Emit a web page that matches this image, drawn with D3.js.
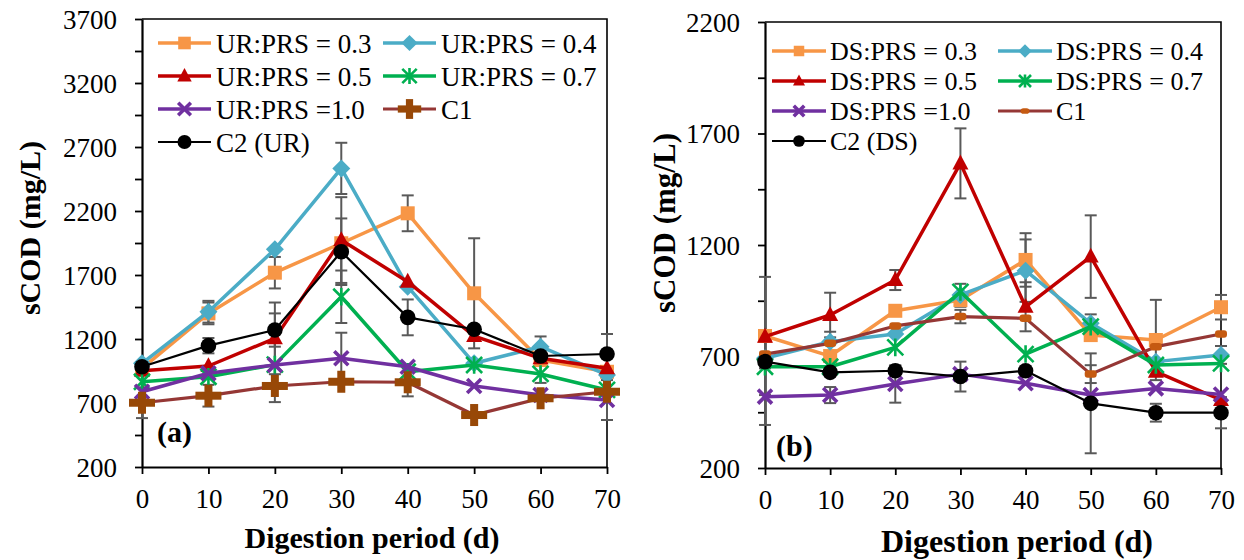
<!DOCTYPE html>
<html>
<head>
<meta charset="utf-8">
<script src="https://cdn.jsdelivr.net/npm/d3@7"></script>
<style>
  html, body { margin: 0; padding: 0; background: #fff; }
  svg { display: block; font-family: "Liberation Serif", "Times New Roman", serif; }
</style>
</head>
<body>
<svg id="chart" width="1244" height="560"></svg>
<script>
// Sampling days
const days = [0, 10, 20, 30, 40, 50, 60, 70];
const xTicks = [0, 10, 20, 30, 40, 50, 60, 70];

// Panel (a): UR co-digestion, sCOD (mg/L)
const ur03 = [970, 1400, 1718, 1948, 2182, 1557, 1036, 944];
const ur04 = [1010, 1413, 1901, 2533, 1609, 1010, 1140, 919];
const ur05 = [952, 989, 1205, 1973, 1648, 1223, 1049, 971];
const ur07 = [866, 905, 1000, 1530, 944, 997, 927, 802];
const ur10 = [788, 932, 997, 1049, 983, 833, 763, 723];
const urC1 = [702, 757, 833, 866, 862, 606, 737, 788];
const urC2 = [983, 1148, 1270, 1882, 1369, 1276, 1067, 1083];
// Panel (a): standard deviations
const ur03Err = [0, 85, 123, 0, 140, 430, 0, 0];
const ur04Err = [0, 85, 0, 200, 0, 0, 80, 0];
const ur05Err = [0, 0, 280, 335, 0, 0, 0, 0];
const ur07Err = [0, 0, 0, 205, 0, 0, 70, 0];
const ur10Err = [0, 0, 290, 200, 0, 0, 0, 156];
const urC1Err = [120, 85, 0, 0, 110, 0, 0, 0];
const urC2Err = [0, 60, 130, 260, 140, 0, 0, 156];
const urTicks = [200, 700, 1200, 1700, 2200, 2700, 3200, 3700];

// Panel (b): DS co-digestion, sCOD (mg/L)
const ds03 = [792, 702, 905, 953, 1133, 796, 774, 921];
const ds04 = [692, 766, 801, 976, 1085, 849, 677, 707];
const ds05 = [789, 886, 1043, 1566, 923, 1148, 632, 505];
const ds07 = [654, 654, 741, 990, 711, 834, 662, 669];
const ds10 = [520, 527, 577, 621, 580, 527, 557, 530];
const dsC1 = [711, 759, 837, 879, 871, 621, 744, 801];
const dsC2 = [677, 629, 636, 610, 636, 490, 448, 448];
// Panel (b): standard deviations
const ds03Err = [265, 0, 0, 30, 120, 0, 180, 55];
const ds04Err = [0, 45, 0, 0, 140, 0, 0, 40];
const ds05Err = [0, 100, 45, 157, 110, 185, 0, 0];
const ds07Err = [0, 0, 0, 36, 0, 55, 0, 0];
const ds10Err = [127, 36, 84, 0, 0, 0, 0, 0];
const dsC1Err = [0, 0, 0, 30, 0, 40, 0, 0];
const dsC2Err = [0, 0, 0, 67, 0, 224, 40, 70];
const dsTicks = [200, 700, 1200, 1700, 2200];

const ratioLabels = ["0.3", "0.4", "0.5", "0.7"];

const C = {
  orange: "#F79646", blue: "#4BACC6", red: "#C00000", green: "#00B050",
  purple: "#7030A0", brownLine: "#953735", brownMark: "#984807",
  c1Mark: "#C55A11", black: "#000000", err: "#595959"
};

const svg = d3.select("#chart");

// ---- marker shapes ----
function drawMarker(g, type, x, y, color, k) {
  switch (type) {
    case "square": {
      const s = 14 * k;
      g.append("rect").attr("x", x - s / 2).attr("y", y - s / 2).attr("width", s).attr("height", s).attr("fill", color);
      break;
    }
    case "diamond": {
      const h = 9 * k;
      g.append("path").attr("d", `M${x},${y - h}L${x + h},${y}L${x},${y + h}L${x - h},${y}Z`).attr("fill", color);
      break;
    }
    case "triangle": {
      const h = 8 * k;
      g.append("path").attr("d", `M${x},${y - h * 1.1}L${x + h},${y + h * 0.75}L${x - h},${y + h * 0.75}Z`).attr("fill", color);
      break;
    }
    case "circle":
      g.append("circle").attr("cx", x).attr("cy", y).attr("r", 7.8 * k).attr("fill", color);
      break;
    case "star": {
      const h = 8 * k;
      const d = `M${x - h},${y - h}L${x + h},${y + h}M${x - h},${y + h}L${x + h},${y - h}M${x},${y - h * 1.1}L${x},${y + h * 1.1}`;
      g.append("path").attr("d", d).attr("stroke", color).attr("stroke-width", 2.6).attr("fill", "none");
      break;
    }
    case "cross": {
      const h = 7 * k;
      const d = `M${x - h},${y - h}L${x + h},${y + h}M${x - h},${y + h}L${x + h},${y - h}`;
      g.append("path").attr("d", d).attr("stroke", color).attr("stroke-width", 3.6).attr("fill", "none");
      break;
    }
    case "plus": {
      const w = 26 * k, hgt = 22 * k, t = 8 * k;
      g.append("rect").attr("x", x - w / 2).attr("y", y - t / 2).attr("width", w).attr("height", t).attr("fill", color);
      g.append("rect").attr("x", x - t / 2).attr("y", y - hgt / 2).attr("width", t).attr("height", hgt).attr("fill", color);
      break;
    }
    case "dash": {
      const w = 12 * k, hgt = 7.5 * k;
      g.append("rect").attr("x", x - w / 2).attr("y", y - hgt / 2).attr("width", w).attr("height", hgt)
        .attr("rx", 3).attr("fill", color);
      break;
    }
  }
}

// ---- one panel ----
function panel(cfg) {
  const x = d3.scaleLinear().domain([0, 70]).range([cfg.left, cfg.right]);
  const y = d3.scaleLinear().domain([cfg.yMin, cfg.yMax]).range([cfg.bottom, cfg.top]);
  const g = svg.append("g");

  // frame (top and right edges)
  g.append("path")
    .attr("d", `M${x(0)},${y(cfg.yMax)}H${x(70)}V${y(cfg.yMin)}`)
    .attr("fill", "none").attr("stroke", "#000").attr("stroke-width", 1.6);

  // y axis: ticks every 250, labels every 500
  const yTickVals = d3.range(cfg.yMin, cfg.yMax + 1, 250);
  const yAxis = g.append("g").attr("transform", `translate(${x(0)},0)`)
    .call(d3.axisLeft(y).tickValues(yTickVals)
      .tickFormat(d => cfg.yTicks.includes(d) ? String(d) : "")
      .tickSize(7).tickSizeOuter(0).tickPadding(18));
  // x axis
  const xAxis = g.append("g").attr("transform", `translate(0,${y(cfg.yMin)})`)
    .call(d3.axisBottom(x).tickValues(xTicks).tickSize(7).tickSizeOuter(0).tickPadding(15));
  [yAxis, xAxis].forEach(a => {
    a.attr("font-family", "Liberation Serif");
    a.select(".domain").attr("stroke", "#000").attr("stroke-width", 2.2);
    a.selectAll(".tick line").attr("stroke", "#000").attr("stroke-width", 1.8);
    a.selectAll("text").attr("font-family", "Liberation Serif").attr("font-size", 27).attr("fill", "#000");
  });
  yAxis.selectAll("text").attr("dy", "0.34em");
  xAxis.selectAll("text").attr("dy", "0.72em");

  // error bars
  const eg = g.append("g");
  cfg.series.forEach(s => {
    s.values.forEach((v, i) => {
      const e = s.err[i];
      if (!e) return;
      const cx = x(days[i]), y1 = y(v + e), y2 = y(v - e);
      eg.append("line").attr("x1", cx).attr("x2", cx).attr("y1", y1).attr("y2", y2)
        .attr("stroke", C.err).attr("stroke-width", 2);
      [y1, y2].forEach(yy => eg.append("line").attr("x1", cx - 6).attr("x2", cx + 6)
        .attr("y1", yy).attr("y2", yy).attr("stroke", C.err).attr("stroke-width", 2));
    });
  });

  // series lines + markers
  const line = d3.line().x((d, i) => x(days[i])).y(d => y(d));
  cfg.series.forEach(s => {
    const sg = g.append("g");
    sg.append("path").datum(s.values).attr("d", line)
      .attr("fill", "none").attr("stroke", s.line).attr("stroke-width", s.width)
      .attr("stroke-linejoin", "round");
    s.values.forEach((v, i) => drawMarker(sg, s.marker, x(days[i]), y(v), s.mark, 1));
  });

  // legend
  const lg = g.append("g");
  cfg.series.forEach((s, i) => {
    const col = i % 2, row = Math.floor(i / 2);
    const L = cfg.legend;
    const x0 = L.cols[col], base = L.rows[row];
    const ly = base - L.lineOff;
    lg.append("line").attr("x1", x0).attr("x2", x0 + L.lineLen).attr("y1", ly).attr("y2", ly)
      .attr("stroke", s.line).attr("stroke-width", s.width);
    drawMarker(lg, s.marker, x0 + L.lineLen / 2, ly, s.mark, L.mk);
    lg.append("text").attr("x", x0 + L.lineLen + L.gap).attr("y", base)
      .attr("font-size", L.size).attr("fill", "#000").text(s.name);
  });

  // panel tag
  g.append("text").attr("x", cfg.tag.x).attr("y", cfg.tag.y)
    .attr("font-size", 30).attr("font-weight", "bold").text(cfg.tag.text);

  // axis titles
  g.append("text").attr("x", cfg.xTitle.x).attr("y", cfg.xTitle.y).attr("text-anchor", "middle")
    .attr("font-size", cfg.xTitle.size).attr("font-weight", "bold").text("Digestion period (d)");
  g.append("text").attr("transform", `translate(${cfg.yTitle.x},${cfg.yTitle.y}) rotate(-90)`)
    .attr("text-anchor", "middle").attr("font-size", cfg.yTitle.size).attr("font-weight", "bold")
    .text("sCOD (mg/L)");
}

panel({
  left: 142, right: 607, top: 19, bottom: 467, yMin: 200, yMax: 3700, yTicks: urTicks,
  series: [
    { name: "UR:PRS = " + ratioLabels[0], values: ur03, err: ur03Err, line: C.orange, mark: C.orange, marker: "square", width: 3.5 },
    { name: "UR:PRS = " + ratioLabels[1], values: ur04, err: ur04Err, line: C.blue, mark: C.blue, marker: "diamond", width: 3.5 },
    { name: "UR:PRS = " + ratioLabels[2], values: ur05, err: ur05Err, line: C.red, mark: C.red, marker: "triangle", width: 3.5 },
    { name: "UR:PRS = " + ratioLabels[3], values: ur07, err: ur07Err, line: C.green, mark: C.green, marker: "star", width: 3.5 },
    { name: "UR:PRS =1.0", values: ur10, err: ur10Err, line: C.purple, mark: C.purple, marker: "cross", width: 3.5 },
    { name: "C1", values: urC1, err: urC1Err, line: C.brownLine, mark: C.brownMark, marker: "plus", width: 3.2 },
    { name: "C2 (UR)", values: urC2, err: urC2Err, line: C.black, mark: C.black, marker: "circle", width: 2.2 }
  ],
  legend: { cols: [158, 383], rows: [53, 86, 119, 152], lineLen: 53, gap: 5, lineOff: 10, size: 27, mk: 0.9 },
  tag: { x: 157, y: 442, text: "(a)" },
  xTitle: { x: 372, y: 548, size: 30 },
  yTitle: { x: 40, y: 228, size: 30 }
});

panel({
  left: 765, right: 1221, top: 22, bottom: 468, yMin: 200, yMax: 2200, yTicks: dsTicks,
  series: [
    { name: "DS:PRS = " + ratioLabels[0], values: ds03, err: ds03Err, line: C.orange, mark: C.orange, marker: "square", width: 3.5 },
    { name: "DS:PRS = " + ratioLabels[1], values: ds04, err: ds04Err, line: C.blue, mark: C.blue, marker: "diamond", width: 3.5 },
    { name: "DS:PRS = " + ratioLabels[2], values: ds05, err: ds05Err, line: C.red, mark: C.red, marker: "triangle", width: 3.5 },
    { name: "DS:PRS = " + ratioLabels[3], values: ds07, err: ds07Err, line: C.green, mark: C.green, marker: "star", width: 3.5 },
    { name: "DS:PRS =1.0", values: ds10, err: ds10Err, line: C.purple, mark: C.purple, marker: "cross", width: 3.5 },
    { name: "C1", values: dsC1, err: dsC1Err, line: C.brownLine, mark: C.c1Mark, marker: "dash", width: 3.2 },
    { name: "C2 (DS)", values: dsC2, err: dsC2Err, line: C.black, mark: C.black, marker: "circle", width: 2.2 }
  ],
  legend: { cols: [772, 998], rows: [60, 90, 120, 150], lineLen: 54, gap: 4, lineOff: 9, size: 26, mk: 0.75 },
  tag: { x: 776, y: 456, text: "(b)" },
  xTitle: { x: 1017, y: 552, size: 32 },
  yTitle: { x: 675, y: 223, size: 31 }
});
</script>
</body>
</html>
